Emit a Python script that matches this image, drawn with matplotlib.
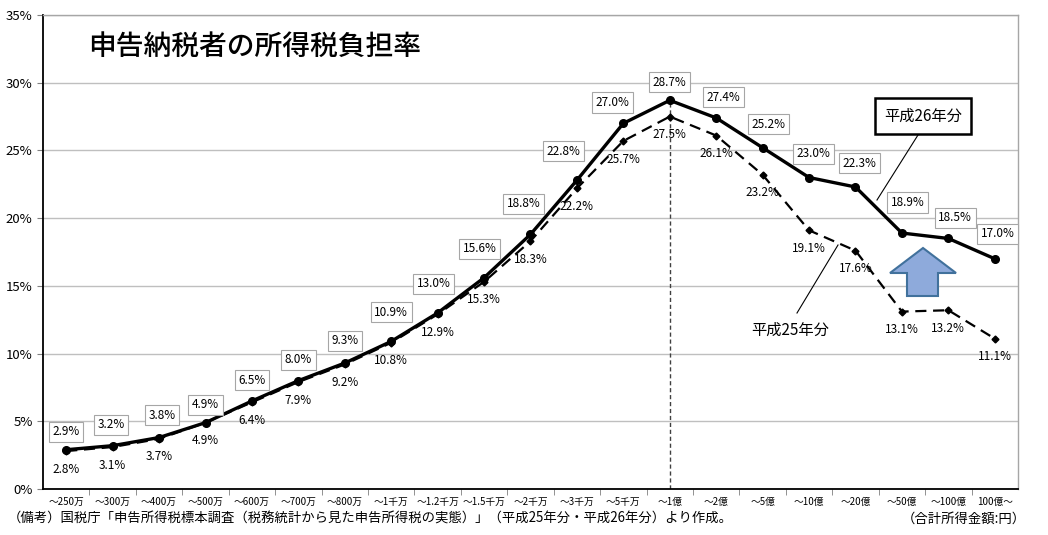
import matplotlib
matplotlib.use("Agg")
import matplotlib.pyplot as plt
from matplotlib.patches import Polygon

plt.rcParams['font.family'] = ['Noto Sans CJK JP', 'DejaVu Sans']

categories = ["～250万", "～300万", "～400万", "～500万", "～600万", "～700万", "～800万",
              "～1千万", "～1.2千万", "～1.5千万", "～2千万", "～3千万", "～5千万", "～1億",
              "～2億", "～5億", "～10億", "～20億", "～50億", "～100億", "100億～"]
h26 = [2.9, 3.2, 3.8, 4.9, 6.5, 8.0, 9.3, 10.9, 13.0, 15.6, 18.8, 22.8, 27.0, 28.7,
       27.4, 25.2, 23.0, 22.3, 18.9, 18.5, 17.0]
h25 = [2.8, 3.1, 3.7, 4.9, 6.4, 7.9, 9.2, 10.8, 12.9, 15.3, 18.3, 22.2, 25.7, 27.5,
       26.1, 23.2, 19.1, 17.6, 13.1, 13.2, 11.1]
yticks = [0, 5, 10, 15, 20, 25, 30, 35]

# label offsets (points) for the boxed H26 labels
off26 = [(0, 13), (-1, 15), (2, 16), (0, 13), (0, 15), (0, 15), (0, 16), (0, 21), (-3, 21),
         (-3, 21), (-5, 22), (-10, 21), (-8, 15), (0, 13), (5, 15), (4, 17), (3, 17),
         (3, 17), (4, 22), (5, 15), (2, 18)]

fig = plt.figure(figsize=(10.48, 5.35), dpi=100)
ax = fig.add_axes([43/1048, 46/535, 975/1048, 474/535])

x = list(range(len(categories)))
ax.set_xlim(-0.5, len(categories) - 0.5)
ax.set_ylim(0, 35)

ax.set_yticks(yticks)
ax.set_yticklabels([f"{v}%" for v in yticks], fontsize=9.5)
ax.yaxis.grid(True, color='#bfbfbf', lw=1)
ax.set_axisbelow(True)

ax.set_xticks(x)
ax.set_xticklabels(categories, fontsize=7)
ax.tick_params(axis='x', length=0, pad=6)
ax.set_xticks([i + 0.5 for i in x[:-1]], minor=True)
ax.tick_params(axis='x', which='minor', length=4, direction='out', color='#808080')
ax.tick_params(axis='y', length=4, color='#808080')

for s in ['left', 'bottom']:
    ax.spines[s].set_color('black')
    ax.spines[s].set_linewidth(1.3)
for s in ['top', 'right']:
    ax.spines[s].set_color('#a6a6a6')
    ax.spines[s].set_linewidth(1)

# vertical dashed line at ~1億
i_peak = categories.index("～1億")
ax.plot([i_peak, i_peak], [0, h26[i_peak]], color='#404040', lw=1, ls=(0, (3, 2)), zorder=2)

ax.plot(x, h25, color='black', lw=1.6, ls=(0, (5, 3)), marker='D', markersize=3.5, zorder=3)
ax.plot(x, h26, color='black', lw=2.4, marker='o', markersize=5.5, zorder=4)

for i, v in enumerate(h26):
    dx, dy = off26[i]
    ax.annotate(f"{v:.1f}%", (i, v), xytext=(dx, dy), textcoords='offset points',
                ha='center', va='center', fontsize=8.5,
                bbox=dict(boxstyle='square,pad=0.3', fc='white', ec='#a6a6a6', lw=0.8), zorder=6)
for i, v in enumerate(h25):
    ax.annotate(f"{v:.1f}%", (i, v), xytext=(0, -13), textcoords='offset points',
                ha='center', va='center', fontsize=8.5, zorder=6)

# title
fig.text(88/1048, 1 - 46/535, "申告納税者の所得税負担率", fontsize=20, fontweight='medium',
         ha='left', va='center')

# callouts
def px(xp, yp):
    return (xp/1048, 1 - yp/535)

fig.text(*px(923, 116), "平成26年分", fontsize=11, ha='center', va='center',
         bbox=dict(boxstyle='square,pad=0.6', fc='white', ec='black', lw=1.8), zorder=10)
fig.add_artist(plt.Line2D([918/1048, 877/1048], [1 - 135/535, 1 - 200/535],
                          color='black', lw=0.8))
fig.text(*px(790, 330), "平成25年分", fontsize=11, ha='center', va='center')
fig.add_artist(plt.Line2D([797/1048, 838/1048], [1 - 313/535, 1 - 245/535],
                          color='black', lw=0.8))

# up arrow
arrow_px = [(923, 248), (956, 273), (938, 273), (938, 296), (907, 296), (907, 273), (890, 273)]
arrow = Polygon([px(a, b) for a, b in arrow_px], closed=True, fc='#8eaadb', ec='#41719c',
                lw=1.5, transform=fig.transFigure)
fig.add_artist(arrow)

# notes
fig.text(8/1048, 1 - 519/535,
         "（備考）国税庁「申告所得税標本調査（税務統計から見た申告所得税の実態）」（平成25年分・平成26年分）より作成。",
         fontsize=9.6, ha='left', va='center')
fig.text(1026/1048, 1 - 519/535, "（合計所得金額:円）", fontsize=9.6, ha='right', va='center')

fig.savefig("out.png", dpi=100)
